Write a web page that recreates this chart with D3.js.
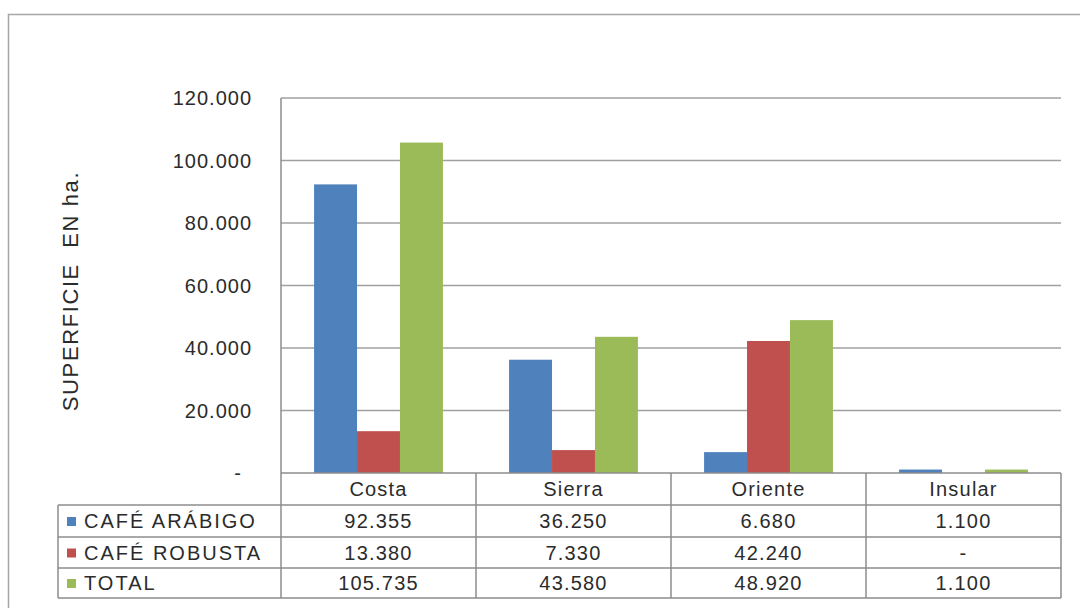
<!DOCTYPE html>
<html>
<head>
<meta charset="utf-8">
<script src="https://cdn.jsdelivr.net/npm/d3@7"></script>
<style>
  body { margin: 0; background: #fff; }
  text { font-family: "Liberation Sans", Arial, sans-serif; fill: #2b2b2b; }
</style>
</head>
<body>
<div id="chart"></div>
<script>
const regions = ["Costa", "Sierra", "Oriente", "Insular"];
const seriesNames = ["CAFÉ ARÁBIGO", "CAFÉ ROBUSTA", "TOTAL"];
const arabigo = [92355, 36250, 6680, 1100];
const robusta = [13380, 7330, 42240, 0];
const total = [105735, 43580, 48920, 1100];
const yTicks = [0, 20000, 40000, 60000, 80000, 100000, 120000];
const colors = ["#4f81bd", "#c0504d", "#9bbb59"];

const width = 1080, height = 608;
const series = [arabigo, robusta, total];

const svg = d3.select("#chart").append("svg")
    .attr("width", width)
    .attr("height", height);

// outer chart frame
svg.append("rect")
    .attr("x", 8.5).attr("y", 14.5)
    .attr("width", 1100).attr("height", 620)
    .attr("fill", "none")
    .attr("stroke", "#a6a6a6")
    .attr("stroke-width", 1.5);

const plotLeft = 281, plotRight = 1061, plotTop = 98, plotBottom = 473;

const x = d3.scaleBand().domain(regions).range([plotLeft, plotRight]);
const xInner = d3.scaleBand().domain(d3.range(3))
    .range([0, x.bandwidth()]).paddingOuter(0.77).paddingInner(0);
const y = d3.scaleLinear().domain([0, 120000]).range([plotBottom, plotTop]);

const fmt = v => v === 0 ? "-" : d3.format(",.0f")(v).replace(/,/g, ".");

// gridlines
svg.append("g").selectAll("line")
    .data(yTicks.filter(d => d > 0))
    .join("line")
    .attr("x1", plotLeft).attr("x2", plotRight)
    .attr("y1", d => y(d)).attr("y2", d => y(d))
    .attr("stroke", "#a0a0a0").attr("stroke-width", 1.5);

// y tick labels
svg.append("g").selectAll("text")
    .data(yTicks)
    .join("text")
    .attr("x", d => d === 0 ? 242 : 252)
    .attr("y", d => y(d) + 7)
    .attr("text-anchor", "end")
    .style("font-size", "20px")
    .style("letter-spacing", "1px")
    .text(d => fmt(d));

// y title
svg.append("text")
    .attr("transform", "translate(78,291) rotate(-90)")
    .attr("text-anchor", "middle")
    .style("font-size", "22px")
    .style("letter-spacing", "1.6px")
    .style("white-space", "pre")
    .text("SUPERFICIE  EN ha.");

// bars
series.forEach((vals, si) => {
    svg.append("g").selectAll("rect")
        .data(regions.map((r, i) => ({ r, v: vals[i] })))
        .join("rect")
        .attr("x", d => x(d.r) + xInner(si))
        .attr("width", xInner.bandwidth())
        .attr("y", d => y(d.v))
        .attr("height", d => plotBottom - y(d.v))
        .attr("fill", colors[si]);
});

// data table
const rowH = [32, 32, 31, 30];
const rowY = [plotBottom];
rowH.forEach((h, i) => rowY.push(rowY[i] + h));
const tableLeft = 58;
const tbl = svg.append("g")
    .attr("stroke", "#8c8c8c")
    .attr("stroke-width", 1.5)
    .attr("fill", "none");

// plot left axis line + column borders
tbl.append("line").attr("x1", plotLeft).attr("x2", plotLeft).attr("y1", plotTop).attr("y2", rowY[4]);
regions.forEach(r => {
    const xr = x(r) + x.bandwidth();
    tbl.append("line").attr("x1", xr).attr("x2", xr).attr("y1", plotBottom).attr("y2", rowY[4]);
});
tbl.append("line").attr("x1", tableLeft).attr("x2", tableLeft).attr("y1", rowY[1]).attr("y2", rowY[4]);
// horizontal rules
tbl.append("line").attr("x1", plotLeft).attr("x2", plotRight).attr("y1", rowY[0]).attr("y2", rowY[0]);
[1, 2, 3, 4].forEach(i => {
    tbl.append("line").attr("x1", tableLeft).attr("x2", plotRight).attr("y1", rowY[i]).attr("y2", rowY[i]);
});

// header: region names
svg.append("g").selectAll("text")
    .data(regions)
    .join("text")
    .attr("x", d => x(d) + x.bandwidth() / 2)
    .attr("y", rowY[0] + 23)
    .attr("text-anchor", "middle")
    .style("font-size", "20px")
    .style("letter-spacing", "1.2px")
    .text(d => d);

// rows
series.forEach((vals, si) => {
    const cy = (rowY[si + 1] + rowY[si + 2]) / 2;
    svg.append("rect")
        .attr("x", 67).attr("y", cy - 4)
        .attr("width", 9).attr("height", 9)
        .attr("fill", colors[si]);
    svg.append("text")
        .attr("x", 84).attr("y", cy + 7)
        .style("font-size", "20px")
        .style("letter-spacing", "2px")
        .text(seriesNames[si]);
    svg.append("g").selectAll("text")
        .data(vals)
        .join("text")
        .attr("x", (d, i) => x(regions[i]) + x.bandwidth() / 2)
        .attr("y", cy + 7)
        .attr("text-anchor", "middle")
        .style("font-size", "20px")
        .style("letter-spacing", "1.2px")
        .text(d => fmt(d));
});
</script>
</body>
</html>
